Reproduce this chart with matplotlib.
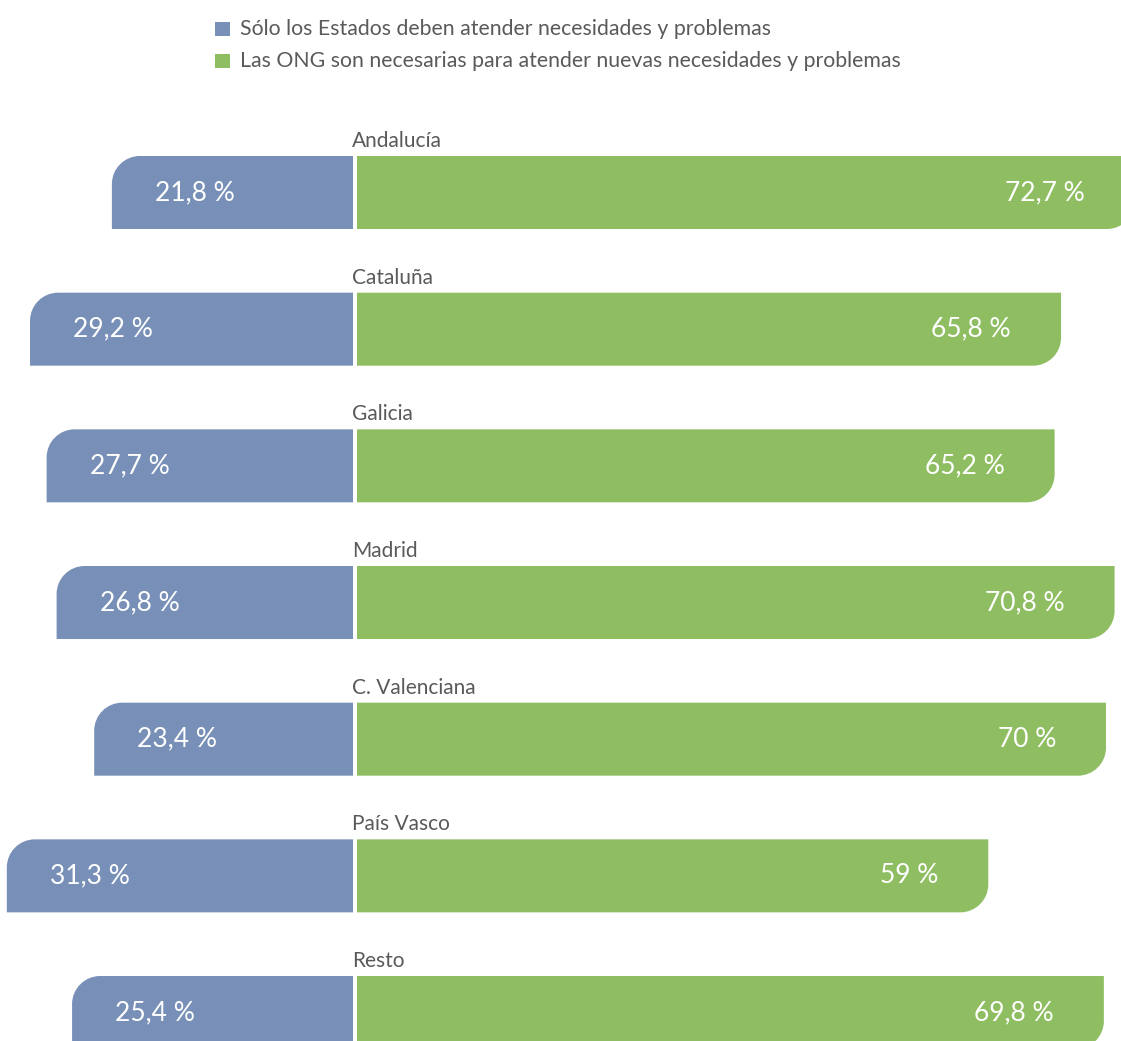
import matplotlib
matplotlib.use("Agg")
import matplotlib.pyplot as plt
from matplotlib.path import Path
from matplotlib.patches import PathPatch, Rectangle

plt.rcParams['font.family'] = ['Lato', 'DejaVu Sans']

regions = ["Andalucía", "Cataluña", "Galicia", "Madrid", "C. Valenciana", "País Vasco", "Resto"]
solo_estado = [21.8, 29.2, 27.7, 26.8, 23.4, 31.3, 25.4]
ong_necesarias = [72.7, 65.8, 65.2, 70.8, 70.0, 59.0, 69.8]
legend_labels = ["Sólo los Estados deben atender necesidades y problemas",
                 "Las ONG son necesarias para atender nuevas necesidades y problemas"]

BLUE = "#7890b8"
GREEN = "#8fbe62"
GREY = "#5a5a5a"

W, H = 1121, 1041
fig = plt.figure(figsize=(W / 100, H / 100), dpi=100)

# pixel layout
zero_l, zero_r = 353, 357
px_blue, px_green = 11.06, 10.70
step, bar_px, first_c = 136.67, 73, 192.5
rad = 28

ylim = (( H - first_c) / step, -first_c / step)
axl = fig.add_axes([0, 0, zero_l / W, 1])
axr = fig.add_axes([zero_r / W, 0, (W - zero_r) / W, 1])
axl.set_xlim(-zero_l / px_blue, 0)
axr.set_xlim(0, (W - zero_r) / px_green)
for ax in (axl, axr):
    ax.set_ylim(*ylim)
    ax.axis("off")

h = bar_px / step
ry = rad / step
k = 0.5523


def bar_left(ax, v, yc, rx):
    x0, x1 = -v, 0
    yt, yb = yc - h / 2, yc + h / 2
    verts = [(x0, yb), (x0, yt + ry),
             (x0, yt + ry * (1 - k)), (x0 + rx * (1 - k), yt), (x0 + rx, yt),
             (x1, yt), (x1, yb), (x0, yb)]
    codes = [Path.MOVETO, Path.LINETO, Path.CURVE4, Path.CURVE4, Path.CURVE4,
             Path.LINETO, Path.LINETO, Path.CLOSEPOLY]
    ax.add_patch(PathPatch(Path(verts, codes), fc=BLUE, ec="none"))


def bar_right(ax, v, yc, rx):
    x0, x1 = 0, v
    yt, yb = yc - h / 2, yc + h / 2
    verts = [(x0, yt), (x1, yt), (x1, yb - ry),
             (x1, yb - ry * (1 - k)), (x1 - rx * (1 - k), yb), (x1 - rx, yb),
             (x0, yb), (x0, yt)]
    codes = [Path.MOVETO, Path.LINETO, Path.LINETO, Path.CURVE4, Path.CURVE4, Path.CURVE4,
             Path.LINETO, Path.CLOSEPOLY]
    ax.add_patch(PathPatch(Path(verts, codes), fc=GREEN, ec="none"))


def fmt(v):
    s = ("%.1f" % v).rstrip("0").rstrip(".")
    return s.replace(".", ",") + " %"


for i, (name, b, g) in enumerate(zip(regions, solo_estado, ong_necesarias)):
    bar_left(axl, b, i, rad / px_blue)
    bar_right(axr, g, i, rad / px_green)
    axl.annotate(fmt(b), xy=(-b, i), xytext=(43, 0), textcoords="offset pixels",
                 ha="left", va="center", color="white", fontsize=19)
    axr.annotate(fmt(g), xy=(g, i), xytext=(-50, 0), textcoords="offset pixels",
                 ha="right", va="center", color="white", fontsize=19,
                 annotation_clip=False)
    axr.annotate(name, xy=(0, i - h / 2), xytext=(-5, 9), textcoords="offset pixels",
                 ha="left", va="baseline", color=GREY, fontsize=15,
                 annotation_clip=False)

# legend
for j, (lab, col) in enumerate(zip(legend_labels, [BLUE, GREEN])):
    yc = 29 + j * 32
    fig.patches.append(Rectangle((215 / W, 1 - (yc + 7) / H), 15 / W, 14 / H,
                                 transform=fig.transFigure, fc=col, ec="none"))
    fig.text(240 / W, 1 - yc / H, lab, ha="left", va="center", color=GREY, fontsize=15.3)

fig.savefig("out.png", dpi=100)
